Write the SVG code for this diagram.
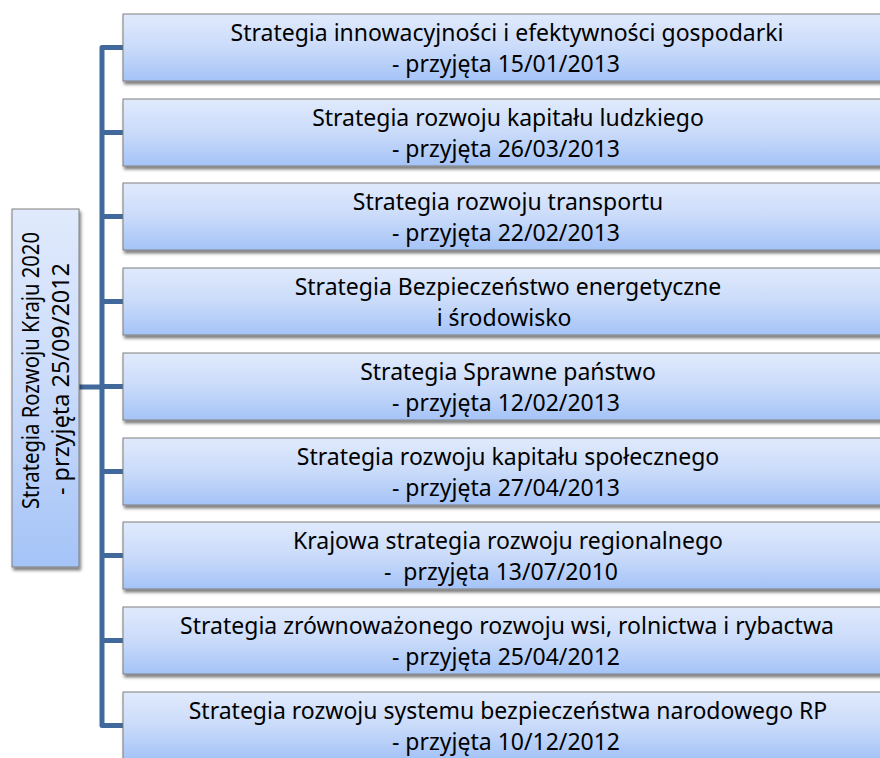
<svg xmlns="http://www.w3.org/2000/svg" width="880" height="758" viewBox="0 0 880 758">
<defs>
<linearGradient id="g" x1="0" y1="0" x2="0" y2="1">
<stop offset="0" stop-color="#e0eafc"/>
<stop offset="0.5" stop-color="#cadbfa"/>
<stop offset="1" stop-color="#a4c3f7"/>
</linearGradient>
<filter id="sh" x="-10%" y="-10%" width="130%" height="140%">
<feDropShadow dx="1.5" dy="3" stdDeviation="1.6" flood-color="#000" flood-opacity="0.5"/>
</filter>
</defs>
<style>
.box{fill:url(#g);stroke:#7f7f7f;stroke-width:1;filter:url(#sh)}
.t{font-family:"Noto Sans","Open Sans","DejaVu Sans",sans-serif;font-size:23px;fill:#000;text-anchor:middle}
.tl{font-family:"Noto Sans","Open Sans","DejaVu Sans",sans-serif;font-size:23px;fill:#000;text-anchor:start}
.c{fill:none;stroke:#41699b;stroke-width:5;stroke-linejoin:round}
</style>
<rect width="880" height="758" fill="#fff"/>
<g id="connectors">
<path class="c" d="M124,47.5 H102 V725.5 H124"/>
<path class="c" d="M102,132.5 H124 M102,216.5 H124 M102,301.5 H124 M102,386.5 H124 M102,471.5 H124 M102,555.5 H124 M102,640.5 H124"/>
<path class="c" d="M79,387 H102"/>
</g>
<g id="root">
<rect class="box" x="12" y="209" width="67" height="358"/>
<text class="tl" transform="translate(39,509) rotate(-90)" textLength="277" lengthAdjust="spacingAndGlyphs">Strategia Rozwoju Kraju 2020</text>
<text class="tl" transform="translate(69,495) rotate(-90)" textLength="232" lengthAdjust="spacingAndGlyphs">- przyjęta 25/09/2012</text>
</g>
<g id="n1">
<rect class="box" x="123" y="14" width="780" height="67"/>
<text class="t" x="507" y="41">Strategia innowacyjności i efektywności gospodarki</text>
<text class="t" x="506" y="72">- przyjęta 15/01/2013</text>
</g>
<g id="n2">
<rect class="box" x="123" y="99" width="780" height="67"/>
<text class="t" x="508" y="126">Strategia rozwoju kapitału ludzkiego</text>
<text class="t" x="506" y="157">- przyjęta 26/03/2013</text>
</g>
<g id="n3">
<rect class="box" x="123" y="183" width="780" height="67"/>
<text class="t" x="508" y="210">Strategia rozwoju transportu</text>
<text class="t" x="506" y="241">- przyjęta 22/02/2013</text>
</g>
<g id="n4">
<rect class="box" x="123" y="268" width="780" height="67"/>
<text class="t" x="508" y="295">Strategia Bezpieczeństwo energetyczne</text>
<text class="t" x="504" y="326">i środowisko</text>
</g>
<g id="n5">
<rect class="box" x="123" y="353" width="780" height="67"/>
<text class="t" x="508" y="380">Strategia Sprawne państwo</text>
<text class="t" x="506" y="411">- przyjęta 12/02/2013</text>
</g>
<g id="n6">
<rect class="box" x="123" y="438" width="780" height="67"/>
<text class="t" x="508" y="465">Strategia rozwoju kapitału społecznego</text>
<text class="t" x="506" y="496">- przyjęta 27/04/2013</text>
</g>
<g id="n7">
<rect class="box" x="123" y="522" width="780" height="67"/>
<text class="t" x="508" y="549">Krajowa strategia rozwoju regionalnego</text>
<text class="t" x="501" y="580" xml:space="preserve">-  przyjęta 13/07/2010</text>
</g>
<g id="n8">
<rect class="box" x="123" y="607" width="780" height="67"/>
<text class="t" x="507" y="634">Strategia zrównoważonego rozwoju wsi, rolnictwa i rybactwa</text>
<text class="t" x="506" y="665">- przyjęta 25/04/2012</text>
</g>
<g id="n9">
<rect class="box" x="123" y="692" width="780" height="67"/>
<text class="t" x="508" y="719">Strategia rozwoju systemu bezpieczeństwa narodowego RP</text>
<text class="t" x="506" y="750">- przyjęta 10/12/2012</text>
</g>
</svg>
